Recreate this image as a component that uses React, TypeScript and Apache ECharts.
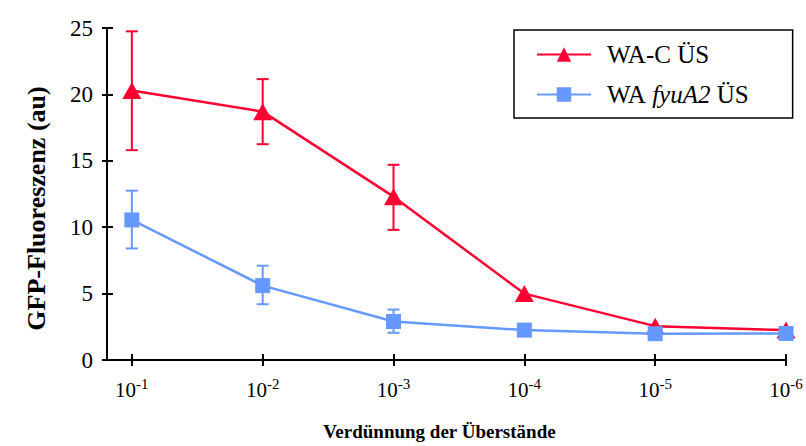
import React, { useEffect, useRef } from "react";
import * as echarts from "echarts";

const categories = ["-1", "-2", "-3", "-4", "-5", "-6"];
const redValues = [20.3, 18.7, 12.3, 5.0, 2.55, 2.25];
const redLow = [15.8, 16.25, 9.8, 5.0, 2.55, 2.25];
const redHigh = [24.75, 21.15, 14.7, 5.0, 2.55, 2.25];
const blueValues = [10.55, 5.6, 2.9, 2.25, 1.98, 2.0];
const blueLow = [8.4, 4.2, 2.05, 2.25, 1.98, 2.0];
const blueHigh = [12.75, 7.1, 3.8, 2.25, 1.98, 2.0];
const yTicks = [0, 5, 10, 15, 20, 25];

const RED = "#FF0033";
const BLUE = "#6699FF";
const FONT = "'Liberation Serif', 'Times New Roman', serif";

// categories are placed at positions 1..6 on a value axis
const pos = (i: number) => i + 1;

function errorSeries(name: string, low: number[], high: number[], color: string, z: number) {
  const data = low.map((l, i) => [pos(i), l, high[i]]).filter((d) => d[2] - d[1] > 0.05);
  return {
    type: "custom",
    name: name + "-err",
    z,
    data,
    silent: true,
    clip: false,
    encode: { x: 0, y: [1, 2] },
    renderItem: (params: any, api: any) => {
      const x = api.value(0);
      const lo = api.coord([x, api.value(1)]);
      const hi = api.coord([x, api.value(2)]);
      const w = 6;
      const style = { stroke: color, lineWidth: 2 };
      return {
        type: "group",
        children: [
          { type: "line", shape: { x1: lo[0], y1: lo[1], x2: hi[0], y2: hi[1] }, style },
          { type: "line", shape: { x1: lo[0] - w, y1: lo[1], x2: lo[0] + w, y2: lo[1] }, style },
          { type: "line", shape: { x1: hi[0] - w, y1: hi[1], x2: hi[0] + w, y2: hi[1] }, style },
        ],
      };
    },
  };
}

export default function App() {
  const ref = useRef<HTMLDivElement>(null);
  useEffect(() => {
    if (!ref.current) return;
    const chart = echarts.init(ref.current, null, { renderer: "svg" });
    const xIdx = categories.map((_, i) => pos(i));
    const axisLineStyle = { color: "#000", width: 2 };
    chart.setOption({
      animation: false,
      backgroundColor: "#fff",
      textStyle: { fontFamily: FONT },
      grid: { left: 107, right: 20, top: 28, bottom: 85, containLabel: false },
      legend: {
        left: 514,
        top: 30,
        orient: "vertical",
        backgroundColor: "#fff",
        borderColor: "#000",
        borderWidth: 1.5,
        borderRadius: 0,
        padding: [12, 44, 11, 22],
        itemWidth: 54,
        itemHeight: 18,
        itemGap: 15,
        data: ["WA-C ÜS", "WA fyuA2 ÜS"],
        formatter: (name: string) =>
          name === "WA fyuA2 ÜS" ? "{n|WA }{i|fyuA2}{n| ÜS}" : "{n|" + name + "}",
        textStyle: {
          color: "#000",
          fontFamily: FONT,
          fontSize: 25,
          padding: [0, 0, 0, 11],
          rich: {
            n: { fontFamily: FONT, fontSize: 25, color: "#000" },
            i: { fontFamily: FONT, fontSize: 25, color: "#000", fontStyle: "italic" },
          },
        },
      },
      xAxis: [
        {
          type: "value",
          min: 0.81,
          max: 6,
          name: "Verdünnung der Überstände",
          nameLocation: "middle",
          nameGap: 62,
          nameTextStyle: { fontFamily: FONT, fontSize: 19, fontWeight: "bold", color: "#000", padding: [0, 14, 0, 0] },
          axisLine: { show: true, onZero: false, lineStyle: axisLineStyle },
          axisTick: { show: true, customValues: xIdx, length: 6, lineStyle: axisLineStyle },
          axisLabel: {
            customValues: xIdx,
            margin: 16,
            formatter: (v: number) => "{b|10}{s|" + categories[Math.round(v) - 1] + "}",
            rich: {
              b: { fontFamily: FONT, fontSize: 21, color: "#000", lineHeight: 24, verticalAlign: "bottom" },
              s: { fontFamily: FONT, fontSize: 15, color: "#000", verticalAlign: "top", lineHeight: 24, padding: [0, 0, 10, 0] },
            },
          },
          splitLine: { show: false },
        },
        {
          type: "value",
          min: 0.81,
          max: 6,
          position: "bottom",
          axisLine: { show: false, onZero: false },
          axisTick: { show: true, inside: true, customValues: xIdx, length: 6, lineStyle: axisLineStyle },
          axisLabel: { show: false },
          splitLine: { show: false },
        },
      ],
      yAxis: [
        {
          type: "value",
          min: 0,
          max: 25,
          interval: 5,
          name: "GFP-Fluoreszenz (au)",
          nameLocation: "middle",
          nameGap: 58,
          nameTextStyle: { fontFamily: FONT, fontSize: 26, fontWeight: "bold", color: "#000", padding: [0, 29, 0, 0] },
          axisLine: { show: true, onZero: false, lineStyle: axisLineStyle },
          axisTick: { show: true, length: 5, lineStyle: axisLineStyle },
          axisLabel: {
            margin: 14,
            fontFamily: FONT,
            fontSize: 23,
            color: "#000",
            formatter: (v: number) => (yTicks.includes(v) ? String(v) : ""),
          },
          splitLine: { show: false },
        },
        {
          type: "value",
          min: 0,
          max: 25,
          interval: 5,
          position: "left",
          axisLine: { show: false, onZero: false },
          axisTick: { show: true, inside: true, length: 6, lineStyle: axisLineStyle },
          axisLabel: { show: false },
          splitLine: { show: false },
        },
      ],
      series: [
        errorSeries("red", redLow, redHigh, RED, 2),
        errorSeries("blue", blueLow, blueHigh, BLUE, 2),
        {
          type: "line",
          name: "WA-C ÜS",
          z: 3,
          clip: false,
          data: redValues.map((v, i) => [pos(i), v]),
          symbol: "triangle",
          symbolSize: [19, 17],
          lineStyle: { color: RED, width: 2.5 },
          itemStyle: { color: RED },
        },
        {
          type: "line",
          name: "WA fyuA2 ÜS",
          z: 4,
          clip: false,
          data: blueValues.map((v, i) => [pos(i), v]),
          symbol: "rect",
          symbolSize: 15,
          lineStyle: { color: BLUE, width: 2.5 },
          itemStyle: { color: BLUE },
        },
      ],
    });
    return () => chart.dispose();
  }, []);
  return <div ref={ref} style={{ width: 806, height: 446, position: "absolute", left: 0, top: 0 }} />;
}
